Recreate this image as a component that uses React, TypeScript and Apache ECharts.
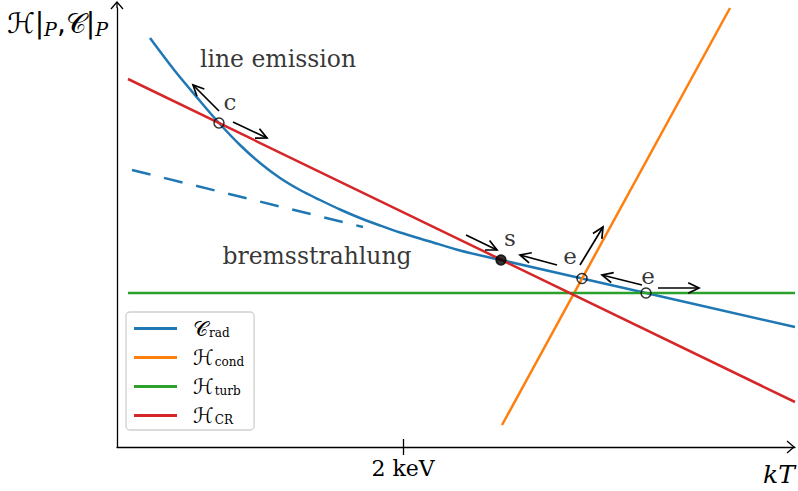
import React, { useEffect, useRef } from "react";
import * as echarts from "echarts";

// Schematic units: x spans the temperature axis, y the heating/cooling rate axis.
const X_MAX = 678;
const Y_MAX = 439;
const TWO_KEV = 286;

// Radiative cooling curve (line emission + bremsstrahlung), low-T part
const cRadLow: number[][] = [
  [33, 409], [58, 376], [83, 346], [102, 324], [123, 302], [143, 284],
  [163, 269], [183, 257], [203, 247], [223, 237.5], [243, 229], [263, 221.5],
  [283, 214.5], [313, 205.5], [343, 196.5], [384, 187],
];
// Radiative cooling curve, bremsstrahlung-dominated high-T part
const cRadHigh: number[][] = [[384, 187], [465, 168.5], [529, 154], [678, 120]];
// Pure bremsstrahlung extension to low temperature
const bremsOnly: number[][] = [[15, 277], [246, 220]];
// Heating terms
const hCond: number[][] = [[385, 22], [613, 439]];
const hTurb: number[][] = [[11, 154], [678, 154]];
const hCR: number[][] = [[11, 368], [678, 45]];

// Equilibrium points: [x, y, filled]
const equilibria: number[][] = [
  [102, 324, 0],
  [384, 187, 1],
  [465, 168.5, 0],
  [529, 154, 0],
];
const pointNames = ["c", "s", "e", "e"];
const pointLabelPos: number[][] = [[113, 345], [393, 209], [453, 191], [531, 171]];

// Perturbation arrows: [x0, y0, x1, y1]
const arrows: number[][] = [
  [102, 336, 76, 362],
  [116, 325, 150, 309],
  [349, 212, 380, 197],
  [440, 182, 403, 192],
  [463, 182, 486, 220],
  [525, 162, 485, 172],
  [541, 159, 582, 159],
];

const regionNames = ["line emission", "bremsstrahlung"];
const regionPos: number[][] = [[161, 388], [200, 191]];

const BLUE = "#1f77b4";
const ORANGE = "#ff7f0e";
const GREEN = "#2ca02c";
const RED = "#d62728";
const SERIF = "DejaVu Serif";
const MATH = "DejaVu Sans";

const legendRich: Record<string, string> = {
  Crad: "{m|𝒞}{s|rad}",
  Hcond: "{m|ℋ}{s|cond}",
  Hturb: "{m|ℋ}{s|turb}",
  HCR: "{m|ℋ}{s|CR}",
};

export default function App() {
  const ref = useRef<HTMLDivElement>(null);

  useEffect(() => {
    if (!ref.current) return;
    const chart = echarts.init(ref.current, null, { renderer: "svg" });

    const lineSeries = (name: string, data: number[][], color: string, extra: any = {}) => ({
      type: "line",
      name,
      data,
      showSymbol: false,
      symbol: "none",
      lineStyle: { color, width: 2.5 },
      itemStyle: { color },
      clip: false,
      z: 2,
      ...extra,
    });

    const option: any = {
      animation: false,
      backgroundColor: "#fff",
      grid: { left: 117, top: 8, right: 3, bottom: 44, containLabel: false },
      xAxis: [
        {
          type: "value",
          min: 0,
          max: X_MAX,
          position: "bottom",
          splitLine: { show: false },
          axisLine: { show: true, lineStyle: { color: "#000", width: 1.3 } },
          axisTick: { show: true, customValues: [TWO_KEV], length: 8, lineStyle: { color: "#000", width: 1.3 } },
          axisLabel: {
            show: true,
            customValues: [TWO_KEV],
            formatter: () => "2 keV",
            fontFamily: SERIF,
            fontSize: 22,
            color: "#000",
            margin: 10,
          },
        },
        {
          type: "value",
          min: 0,
          max: X_MAX,
          position: "bottom",
          splitLine: { show: false },
          axisLine: { show: false },
          axisTick: { show: true, inside: true, customValues: [TWO_KEV], length: 8, lineStyle: { color: "#000", width: 1.3 } },
          axisLabel: { show: false },
        },
      ],
      yAxis: {
        type: "value",
        min: 0,
        max: Y_MAX,
        splitLine: { show: false },
        axisLine: { show: true, lineStyle: { color: "#000", width: 1.3 } },
        axisTick: { show: false },
        axisLabel: { show: false },
      },
      legend: {
        data: ["Crad", "Hcond", "Hturb", "HCR"],
        orient: "vertical",
        left: 126,
        top: 312,
        itemWidth: 43,
        itemHeight: 3,
        itemGap: 8,
        icon: "rect",
        padding: [6, 10, 4, 8],
        backgroundColor: "#fff",
        borderColor: "#d0d0d0",
        borderWidth: 1.3,
        borderRadius: 4,
        formatter: (name: string) => legendRich[name] || name,
        textStyle: {
          color: "#000",
          padding: [0, 0, 0, 11],
          rich: {
            m: { fontFamily: MATH, fontSize: 21, lineHeight: 21, color: "#000" },
            s: { fontFamily: SERIF, fontSize: 12, lineHeight: 21, color: "#000", padding: [9, 0, 0, 1] },
          },
        },
      },
      graphic: [
        // axis arrowheads
        { type: "polyline", shape: { points: [[787, 441], [794, 447], [787, 453]] }, style: { stroke: "#000", lineWidth: 1.3, fill: "none" } },
        { type: "line", shape: { x1: 117, y1: 8, x2: 117, y2: 2 }, style: { stroke: "#000", lineWidth: 1.3 } },
        { type: "polyline", shape: { points: [[111, 9], [117, 2], [123, 9]] }, style: { stroke: "#000", lineWidth: 1.3, fill: "none" } },
        {
          type: "text",
          left: 7,
          top: 9,
          style: {
            text: "{m|ℋ|}{p|P}{m|,𝒞|}{p|P}",
            rich: {
              m: { fontFamily: MATH, fontSize: 28, lineHeight: 33, fill: "#000" },
              p: { fontFamily: SERIF, fontStyle: "italic", fontSize: 19, lineHeight: 33, fill: "#000", padding: [10, 0, 0, 0] },
            },
          },
        },
        {
          type: "text",
          left: 763,
          top: 462,
          style: { text: "kT", fontFamily: SERIF, fontStyle: "italic", fontSize: 25, fill: "#000" },
        },
      ],
      series: [
        lineSeries("Crad", cRadLow, BLUE, { smooth: 0.3 }),
        lineSeries("Crad", cRadHigh, BLUE),
        lineSeries("bremsstrahlung extension", bremsOnly, BLUE, { lineStyle: { color: BLUE, width: 2.5, type: [19, 14] } }),
        lineSeries("Hcond", hCond, ORANGE),
        lineSeries("Hturb", hTurb, GREEN),
        lineSeries("HCR", hCR, RED),
        {
          type: "custom",
          name: "arrows",
          clip: false,
          z: 5,
          data: arrows,
          renderItem: (_p: any, api: any) => {
            const a = api.coord([api.value(0), api.value(1)]);
            const b = api.coord([api.value(2), api.value(3)]);
            const ang = Math.atan2(b[1] - a[1], b[0] - a[0]);
            const L = 12;
            const spread = 0.45;
            const h1 = [b[0] - L * Math.cos(ang - spread), b[1] - L * Math.sin(ang - spread)];
            const h2 = [b[0] - L * Math.cos(ang + spread), b[1] - L * Math.sin(ang + spread)];
            return {
              type: "group",
              children: [
                { type: "line", shape: { x1: a[0], y1: a[1], x2: b[0], y2: b[1] }, style: { stroke: "#000", lineWidth: 1.7 } },
                { type: "polyline", shape: { points: [h1, b, h2] }, style: { stroke: "#000", lineWidth: 1.7, fill: "none" } },
              ],
            };
          },
        },
        {
          type: "scatter",
          name: "equilibria",
          z: 6,
          symbol: "circle",
          symbolSize: 10,
          data: equilibria.map((p) => ({
            value: [p[0], p[1]],
            itemStyle: p[2]
              ? { color: "#000", borderColor: "#000", borderWidth: 1.5 }
              : { color: "rgba(0,0,0,0)", borderColor: "#000", borderWidth: 1.5 },
          })),
        },
        {
          type: "scatter",
          name: "point labels",
          z: 7,
          symbolSize: 0,
          data: pointLabelPos.map((p, i) => ({ value: p, name: pointNames[i] })),
          label: {
            show: true,
            position: "inside",
            formatter: "{b}",
            fontFamily: SERIF,
            fontSize: 23,
            color: "#000",
          },
        },
        {
          type: "scatter",
          name: "regions",
          z: 7,
          symbolSize: 0,
          data: regionPos.map((p, i) => ({ value: p, name: regionNames[i] })),
          label: {
            show: true,
            position: "inside",
            formatter: "{b}",
            fontFamily: SERIF,
            fontSize: 23.5,
            color: "#000",
          },
        },
      ],
    };

    chart.setOption(option);
    return () => chart.dispose();
  }, []);

  return <div ref={ref} style={{ width: 798, height: 491, position: "absolute", left: 0, top: 0 }} />;
}
